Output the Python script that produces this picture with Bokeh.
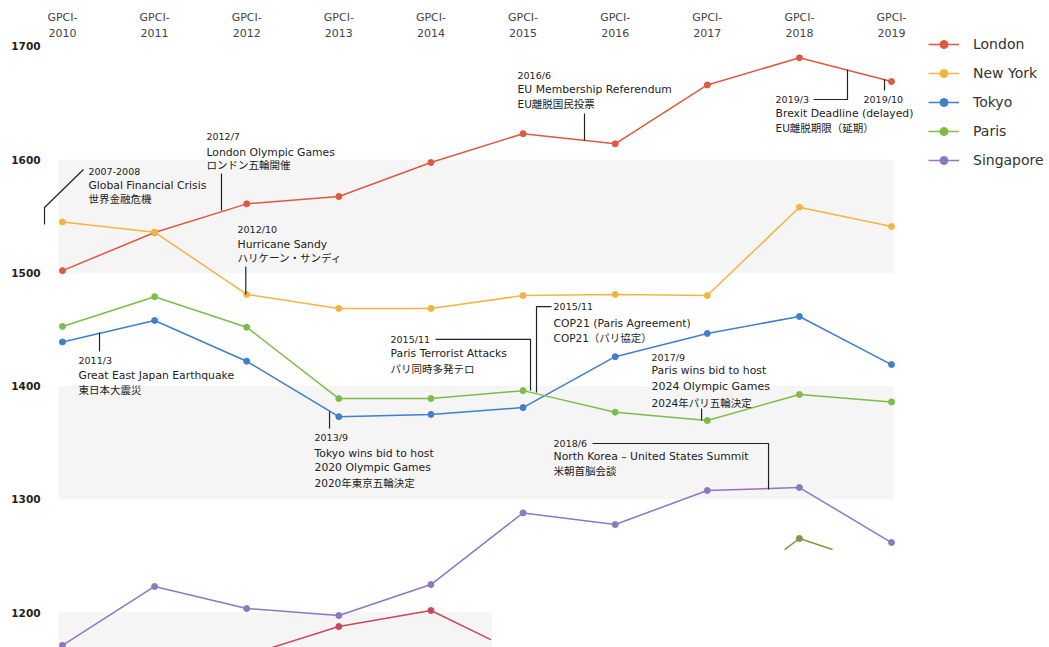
from bokeh.plotting import figure
from bokeh.models import Range1d, FixedTicker, Legend, LegendItem, ColumnDataSource
from bokeh.core.properties import value
from bokeh.embed import file_html
from bokeh.resources import INLINE

# ---------------- data ----------------
years = [2010, 2011, 2012, 2013, 2014, 2015, 2016, 2017, 2018, 2019]
tick_labels = ["GPCI-\n%d" % y for y in years]
y_ticks = [1200, 1300, 1400, 1500, 1600, 1700]

london = [1502, 1535.7, 1561, 1567.5, 1597.5, 1623, 1614, 1666, 1690, 1669]
new_york = [1545, 1536, 1481, 1468.6, 1468.6, 1480, 1481, 1480, 1558, 1541]
tokyo = [1439, 1458, 1422, 1373, 1375, 1381, 1426, 1446.5, 1461.5, 1419]
paris = [1452.7, 1479, 1452, 1389, 1389, 1396, 1377, 1369.6, 1392.6, 1386]
singapore = [1171, 1223, 1203.5, 1197.3, 1224.7, 1288, 1277.7, 1307.8, 1310.4, 1261.8]

cities = ["London", "New York", "Tokyo", "Paris", "Singapore"]
colors = ["#e0583f", "#f5b43f", "#3f7fcc", "#7dbd45", "#8e76c2"]
series = [london, new_york, tokyo, paris, singapore]

# partially rendered fragments visible in the reference
frag_red_x = [2012, 2013, 2014, 2014.65]
frag_red_y = [1162, 1187.6, 1201.8, 1176]
frag_red_pts_x = [2013, 2014]
frag_red_pts_y = [1187.6, 1201.8]
frag_green_x = [2017.84, 2018, 2018.36]
frag_green_y = [1255.6, 1265.4, 1255.6]

# alternating background bands
band_bottom = [1500, 1300, 1100]
band_top = [1600, 1400, 1200]
band_left = [2009.957, 2009.957, 2009.957]
band_right = [2019.022, 2019.022, 2014.66]

# annotation leader lines
lead_xs = [
    [2009.805, 2009.805, 2010.228],
    [2011.726, 2011.726],
    [2011.99, 2011.99],
    [2010.402, 2010.402],
    [2012.899, 2012.899],
    [2014.050, 2015.081, 2015.081],
    [2015.309, 2015.146, 2015.146],
    [2016.938, 2016.938],
    [2015.754, 2017.665, 2017.665],
    [2015.667, 2015.667],
    [2018.153, 2018.522, 2018.522],
    [2018.924, 2018.924],
]
lead_ys = [
    [1542.8, 1557.8, 1591.3],
    [1587.8, 1555.1],
    [1505.7, 1481.0],
    [1447.3, 1430.6],
    [1377.6, 1362.5],
    [1441.2, 1441.2, 1396.1],
    [1470.3, 1470.3, 1394.3],
    [1380.2, 1369.6],
    [1349.3, 1349.3, 1308.7],
    [1640.8, 1617.0],
    [1653.2, 1653.2, 1679.5],
    [1661.1, 1671.0],
]

D, N, J, B = "9.5px", "10.8px", "10.5px", "11px"
note_x = []
note_y = []
note_text = []
note_size = []


def note(x, rows):
    for y, t, s in rows:
        note_x.append(x)
        note_y.append(y)
        note_text.append(t)
        note_size.append(s)


note(2010.282, [(1590.0, "2007-2008", D), (1576.8, "Global Financial Crisis", N), (1565.7, "世界金融危機", J)])
note(2011.563, [(1620.5, "2012/7", D), (1606.4, "London Olympic Games", N), (1594.9, "ロンドン五輪開催", J)])
note(2011.900, [(1538.3, "2012/10", D), (1525.1, "Hurricane Sandy", N), (1513.6, "ハリケーン・サンディ", J)])
note(2010.174, [(1422.6, "2011/3", D), (1409.4, "Great East Japan Earthquake", N), (1397.0, "東日本大震災", J)])
note(2012.736, [(1354.6, "2013/9", D), (1340.5, "Tokyo wins bid to host", N), (1328.1, "2020 Olympic Games", N),
                (1314.8, "2020年東京五輪決定", J)])
note(2013.561, [(1441.2, "2015/11", D), (1428.8, "Paris Terrorist Attacks", N), (1415.5, "パリ同時多発テロ", J)])
note(2015.331, [(1470.3, "2015/11", D), (1455.3, "COP21 (Paris Agreement)", N), (1442.9, "COP21（パリ協定）", J)])
note(2016.395, [(1425.3, "2017/9", D), (1413.8, "Paris wins bid to host", N), (1399.6, "2024 Olympic Games", B),
                (1385.5, "2024年パリ五輪決定", J)])
note(2015.331, [(1349.3, "2018/6", D), (1337.8, "North Korea – United States Summit", N), (1324.6, "米朝首脳会談", J)])
note(2014.940, [(1674.4, "2016/6", D), (1662.0, "EU Membership Referendum", N), (1648.8, "EU離脱国民投票", J)])
note(2017.741, [(1653.2, "2019/3", D), (1640.8, "Brexit Deadline (delayed)", N), (1628.4, "EU離脱期限（延期）", J)])
note(2018.696, [(1653.2, "2019/10", D)])

FONT = "DejaVu Sans, Noto Sans CJK JP"
TEXT_COLOR = "#222222"

# ---------------- figure ----------------
p = figure(width=1049, height=647, output_backend="svg", toolbar_location=None,
           x_range=Range1d(2009.783, 2020.715), y_range=Range1d(1169.1, 1714.13),
           x_axis_location="above", min_border_left=42, min_border_top=30,
           min_border_right=0, min_border_bottom=0)
p.outline_line_color = None
p.grid.visible = False
p.background_fill_color = "white"
p.border_fill_color = "white"

# top axis
xa = p.xaxis[0]
xa.ticker = FixedTicker(ticks=years)
xa.major_label_overrides = {y: t for y, t in zip(years, tick_labels)}
xa.major_label_text_font = FONT
xa.major_label_text_font_size = "11px"
xa.major_label_text_color = "#444444"
xa.major_label_standoff = -9
xa.major_tick_out = 0
xa.major_tick_in = 0
xa.minor_tick_out = 0
xa.minor_tick_in = 0
xa.axis_line_color = None

ya = p.yaxis[0]
ya.ticker = FixedTicker(ticks=y_ticks)
ya.major_label_text_font = FONT
ya.major_label_text_font_size = "10.5px"
ya.major_label_text_font_style = "bold"
ya.major_label_text_color = "#222222"
ya.major_label_standoff = 2
ya.major_tick_out = 0
ya.major_tick_in = 0
ya.minor_tick_out = 0
ya.minor_tick_in = 0
ya.axis_line_color = None

# bands
p.quad(left=band_left, right=band_right, bottom=band_bottom, top=band_top,
       fill_color="#f5f5f5", line_color=None)

# fragments
p.line(frag_red_x, frag_red_y, line_color="#c9485b", line_width=1.5)
p.scatter(frag_red_pts_x, frag_red_pts_y, size=6, fill_color="#c9485b", line_color="#c9485b")
p.line(frag_green_x, frag_green_y, line_color="#7a9a3c", line_width=1.5)
p.scatter([frag_green_x[1]], [frag_green_y[1]], size=6, fill_color="#7a9a3c", line_color="#7a9a3c")

# series
items = []
for name, col, vals in zip(cities, colors, series):
    src = ColumnDataSource(dict(x=years, y=vals))
    r1 = p.line("x", "y", source=src, line_color=col, line_width=1.5)
    r2 = p.scatter("x", "y", source=src, size=6, fill_color=col, line_color=col)
    items.append(LegendItem(label=name, renderers=[r1, r2]))

# leaders
p.multi_line(xs=lead_xs, ys=lead_ys, line_color="#222222", line_width=1.2)

# annotation texts
nsrc = ColumnDataSource(dict(x=note_x, y=note_y, text=note_text, size=note_size))
p.text(x="x", y="y", text="text", source=nsrc, text_font_size="size",
       text_font=value(FONT), text_color=TEXT_COLOR, text_align="left",
       text_baseline="middle")

legend = Legend(items=items, location=(886, 477))
legend.border_line_color = None
legend.background_fill_alpha = 0
legend.padding = 0
legend.margin = 0
legend.spacing = 9
legend.glyph_width = 31
legend.glyph_height = 20
legend.label_height = 20
legend.label_standoff = 14
legend.label_text_font = FONT
legend.label_text_font_size = "14px"
legend.label_text_color = "#333333"
p.add_layout(legend)

open("out.html", "w").write(file_html(p, INLINE))
